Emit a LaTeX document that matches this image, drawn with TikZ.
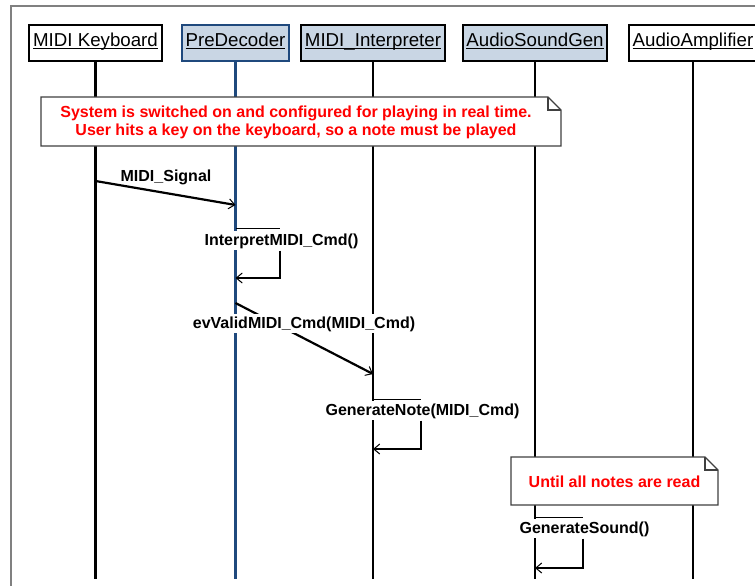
\documentclass[tikz,border=0pt]{standalone}
\usepackage{fontspec}
\setmainfont{Liberation Sans}
\usetikzlibrary{arrows.meta}

\definecolor{classfill}{HTML}{C9D6E4}
\definecolor{activeblue}{HTML}{1F497D}
\definecolor{framegray}{HTML}{808080}
\definecolor{notered}{HTML}{FF0000}
\definecolor{noteline}{HTML}{404040}

% underlined object name, rule just below the baseline
\newcommand\objname[1]{\setbox0\hbox{#1}\rlap{\copy0}\rule[-2.4pt]{\wd0}{1.3pt}}

\begin{document}
\begin{tikzpicture}[x=1pt,y=-1pt,
  head/.style={draw, line width=2.2pt, minimum height=36pt, inner sep=0pt,
    text height=11pt, text depth=3.6pt, font=\fontsize{18.7}{22}\selectfont},
  life/.style={line width=2.2pt},
  msg/.style={line width=2.2pt,
    -{Straight Barb[length=6pt,width=10pt,line width=1pt]}},
  msgtop/.style={line width=1pt},
  msglabel/.style={font=\fontsize{16}{19}\selectfont\bfseries, anchor=base,
    inner sep=2pt},
  notebox/.style={draw=noteline, line width=1.1pt, fill=white, line join=miter},
  notetext/.style={font=\fontsize{16}{19}\selectfont\bfseries, text=notered,
    anchor=base, inner sep=0pt}
]
\useasboundingbox (0,0) rectangle (755,586);
\clip (0,0) rectangle (755,586);
\fill[white] (0,0) rectangle (755,586);

% outer frame
\draw[framegray, line width=1.5pt] (11,6) rectangle (800,640);

% object headers
\node[head, fill=white, minimum width=133pt] (kb) at (95.5,43) {\objname{MIDI Keyboard}};
\node[head, fill=classfill, draw=activeblue, minimum width=107pt] (pd) at (235.5,43) {\objname{PreDecoder}};
\node[head, fill=classfill, minimum width=144pt] (mi) at (373,43) {\objname{MIDI\_Interpreter}};
\node[head, fill=classfill, minimum width=144pt] (asg) at (535,43) {\objname{AudioSoundGen}};
\node[head, fill=white, minimum width=128pt] (amp) at (693,43) {\objname{AudioAmplifier}};

% lifelines
\coordinate (bottom) at (0,579);
\draw[life] (kb.south) -- (kb.south |- bottom);
\draw[life, activeblue] (pd.south) -- (pd.south |- bottom);
\draw[life] (mi.south) -- (mi.south |- bottom);
\draw[life] (asg.south) -- (asg.south |- bottom);
\draw[life] (amp.south) -- (amp.south |- bottom);

% first note
\draw[notebox] (41,97) -- (548,97) -- (561,110) -- (561,146) -- (41,146) -- cycle;
\draw[noteline, line width=1.1pt] (548,97) -- (548,110) -- (561,110);
\node[notetext] (note1a) at (296,117) {System is switched on and configured for playing in real time.};
\node[notetext] (note1b) at (296,135) {User hits a key on the keyboard, so a note must be played};

% MIDI_Signal
\coordinate (sigA) at (95.5,181);
\coordinate (sigB) at (235.5,205);
\draw[msg] (sigA) -- (sigB);
\node[msglabel] (sigL) at (166,181.5) {MIDI\_Signal};

% InterpretMIDI_Cmd()
\coordinate (ipA) at (235.5,228);
\coordinate (ipR) at (280,228);
\coordinate (ipB) at (235.5,278);
\draw[msgtop] (ipA) -- (ipR);
\node[msglabel, fill=white] (ipL) at (281.5,245) {InterpretMIDI\_Cmd()};
\draw[msg] (ipL.south -| ipR) -- (ipR |- ipB) -- (ipB);

% evValidMIDI_Cmd(MIDI_Cmd)
\coordinate (evA) at (235.5,303);
\coordinate (evB) at (373,374);
\draw[msg] (evA) -- (evB);
\node[msglabel, fill=white] (evL) at (304,328) {evValidMIDI\_Cmd(MIDI\_Cmd)};

% GenerateNote(MIDI_Cmd)
\coordinate (gnA) at (373,399);
\coordinate (gnR) at (421,399);
\coordinate (gnB) at (373,449);
\draw[msgtop] (gnA) -- (gnR);
\node[msglabel, fill=white] (gnL) at (422.5,415) {GenerateNote(MIDI\_Cmd)};
\draw[msg] (gnL.south -| gnR) -- (gnR |- gnB) -- (gnB);

% second note
\draw[notebox] (511,457) -- (705,457) -- (718,470) -- (718,505) -- (511,505) -- cycle;
\draw[noteline, line width=1.1pt] (705,457) -- (705,470) -- (718,470);
\node[notetext] (note2) at (614.5,487) {Until all notes are read};

% GenerateSound()
\coordinate (gsA) at (535,517);
\coordinate (gsR) at (583,517);
\coordinate (gsB) at (535,568);
\draw[msgtop] (gsA) -- (gsR);
\node[msglabel, fill=white] (gsL) at (584.5,533) {GenerateSound()};
\draw[msg] (gsL.south -| gsR) -- (gsR |- gsB) -- (gsB);
\end{tikzpicture}
\end{document}
